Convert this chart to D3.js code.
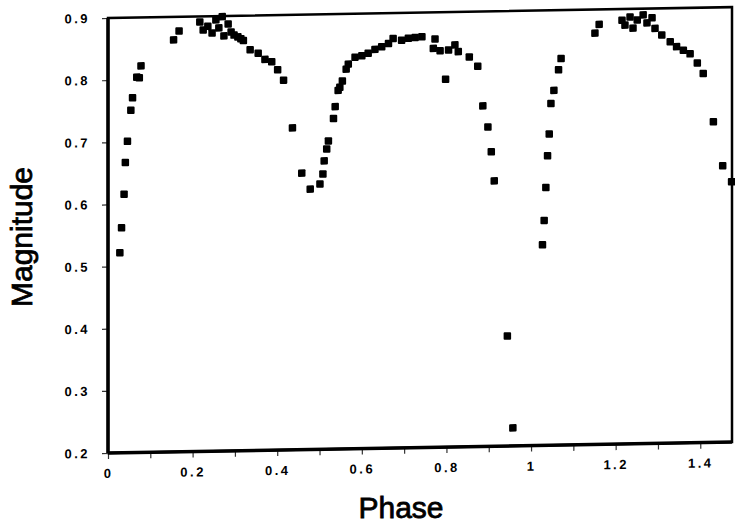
<!DOCTYPE html>
<html>
  <head>
    <meta charset="UTF-8" />
    <title>Light curve - Magnitude vs Phase</title>
    <script src="https://cdn.jsdelivr.net/npm/d3@7"></script>
    <style>
      body {
        margin: 0;
        background: #fff;
      }
      .tick text {
        font: bold 13px "Liberation Sans", Arial, sans-serif;
        letter-spacing: 2.5px;
        fill: #000;
      }
      .tick line {
        stroke: #333;
        stroke-width: 1.2;
      }
      .title {
        font: 30px "Liberation Sans", Arial, sans-serif;
        fill: #000;
        stroke: #000;
        stroke-width: 0.8;
      }
    </style>
  </head>
  <body>
    <div class="chart"></div>

    <script>
      let phase = [
        0.028, 0.032, 0.038, 0.041, 0.046, 0.054, 0.058, 0.068, 0.074, 0.078,
        0.155, 0.168, 0.217, 0.225, 0.236, 0.246, 0.255, 0.262, 0.27, 0.274,
        0.284, 0.291, 0.298, 0.307, 0.314, 0.32, 0.336, 0.355, 0.371, 0.387,
        0.401, 0.415, 0.436, 0.458, 0.478, 0.501, 0.508, 0.511, 0.517, 0.521,
        0.533, 0.537, 0.544, 0.548, 0.554, 0.563, 0.568, 0.584, 0.6, 0.615,
        0.631, 0.647, 0.663, 0.674, 0.694, 0.71, 0.726, 0.742, 0.773, 0.769,
        0.785, 0.805, 0.82, 0.828, 0.798, 0.854, 0.874, 0.886, 0.898, 0.906,
        0.913, 0.944, 0.957, 1.027, 1.031, 1.035, 1.039, 1.043, 1.047, 1.054,
        1.065, 1.071, 1.151, 1.161, 1.215, 1.222, 1.234, 1.241, 1.251, 1.265,
        1.274, 1.286, 1.293, 1.309, 1.329, 1.344, 1.36, 1.376, 1.393, 1.407,
        1.431, 1.453, 1.474,
      ];
      let magnitude = [
        0.522, 0.562, 0.616, 0.667, 0.701, 0.751, 0.771, 0.804, 0.803, 0.822,
        0.863, 0.877, 0.891, 0.878, 0.884, 0.873, 0.894, 0.881, 0.899, 0.868,
        0.887, 0.874, 0.869, 0.866, 0.863, 0.86, 0.845, 0.839, 0.829, 0.825,
        0.812, 0.795, 0.718, 0.645, 0.619, 0.627, 0.643, 0.664, 0.683, 0.696,
        0.732, 0.751, 0.777, 0.782, 0.792, 0.811, 0.819, 0.83, 0.832, 0.836,
        0.842, 0.846, 0.851, 0.859, 0.856, 0.859, 0.86, 0.861, 0.857, 0.842,
        0.838, 0.839, 0.847, 0.836, 0.792, 0.827, 0.812, 0.748, 0.714, 0.674,
        0.627, 0.377, 0.229, 0.523, 0.562, 0.615, 0.666, 0.701, 0.75, 0.771,
        0.804, 0.822, 0.862, 0.876, 0.882, 0.874, 0.887, 0.869, 0.882, 0.89,
        0.877, 0.885, 0.868, 0.857, 0.846, 0.838, 0.832, 0.826, 0.811, 0.794,
        0.716, 0.645, 0.619,
      ];

      // axis ticks
      let xTicks = [0, 0.1, 0.2, 0.3, 0.4, 0.5, 0.6, 0.7, 0.8, 0.9, 1, 1.1, 1.2, 1.3, 1.4];
      let xLabels = ["0", "", "0.2", "", "0.4", "", "0.6", "", "0.8", "", "1", "", "1.2", "", "1.4"];
      let yTicks = [0.2, 0.3, 0.4, 0.5, 0.6, 0.7, 0.8, 0.9];
      let yLabels = ["0.2", "0.3", "0.4", "0.5", "0.6", "0.7", "0.8", "0.9"];

      let width = 735;
      let height = 529;

      let svg = d3
        .select(".chart")
        .append("svg")
        .attr("width", width)
        .attr("height", height);

      let x = d3.scaleLinear().domain([0, 1.475]).range([108, 732]);
      let y = d3.scaleLinear().domain([0.2, 0.9]).range([453, 18]);

      // the scanned original is slightly tilted, follow it
      let plot = svg
        .append("g")
        .attr("transform", `translate(${x(0)},${y(0.2)}) skewY(-1) translate(${-x(0)},${-y(0.2)})`);

      // frame: heavy left/bottom axes, lighter top/right
      plot
        .append("rect")
        .attr("x", x(0))
        .attr("y", y(0.9))
        .attr("width", x(1.475) - x(0))
        .attr("height", y(0.2) - y(0.9))
        .attr("fill", "none")
        .attr("stroke", "#000")
        .attr("stroke-width", 2.5);

      let xAxis = plot
        .append("g")
        .attr("transform", `translate(0,${y(0.2)})`)
        .call(
          d3
            .axisBottom(x)
            .tickValues(xTicks)
            .tickSize(6)
            .tickFormat((d, i) => xLabels[i])
        );
      xAxis.select(".domain").remove();
      xAxis.selectAll("text").attr("y", 25).attr("dy", 0);

      let yAxis = plot
        .append("g")
        .attr("transform", `translate(${x(0)},0)`)
        .call(
          d3
            .axisLeft(y)
            .tickValues(yTicks)
            .tickSize(6)
            .tickPadding(12)
            .tickFormat((d, i) => yLabels[i])
        );
      yAxis.select(".domain").remove();

      // thick left and bottom axis lines
      plot
        .append("line")
        .attr("x1", x(0))
        .attr("x2", x(0))
        .attr("y1", y(0.9))
        .attr("y2", y(0.2))
        .attr("stroke", "#000")
        .attr("stroke-width", 3.5);
      plot
        .append("line")
        .attr("x1", x(0))
        .attr("x2", x(1.475))
        .attr("y1", y(0.2))
        .attr("y2", y(0.2))
        .attr("stroke", "#000")
        .attr("stroke-width", 3.5);

      // data points
      let size = 7.5;
      plot
        .append("g")
        .selectAll("rect")
        .data(phase)
        .enter()
        .append("rect")
        .attr("x", (d) => x(d) - size / 2)
        .attr("y", (d, i) => y(magnitude[i]) - size / 2)
        .attr("width", size)
        .attr("height", size)
        .attr("rx", 1)
        .attr("fill", "#000");

      // axis titles
      svg
        .append("text")
        .attr("class", "title")
        .attr("x", 401)
        .attr("y", 518)
        .attr("text-anchor", "middle")
        .text("Phase");

      svg
        .append("text")
        .attr("class", "title")
        .attr("transform", "translate(32,237) rotate(-90)")
        .attr("text-anchor", "middle")
        .text("Magnitude");
    </script>
  </body>
</html>
